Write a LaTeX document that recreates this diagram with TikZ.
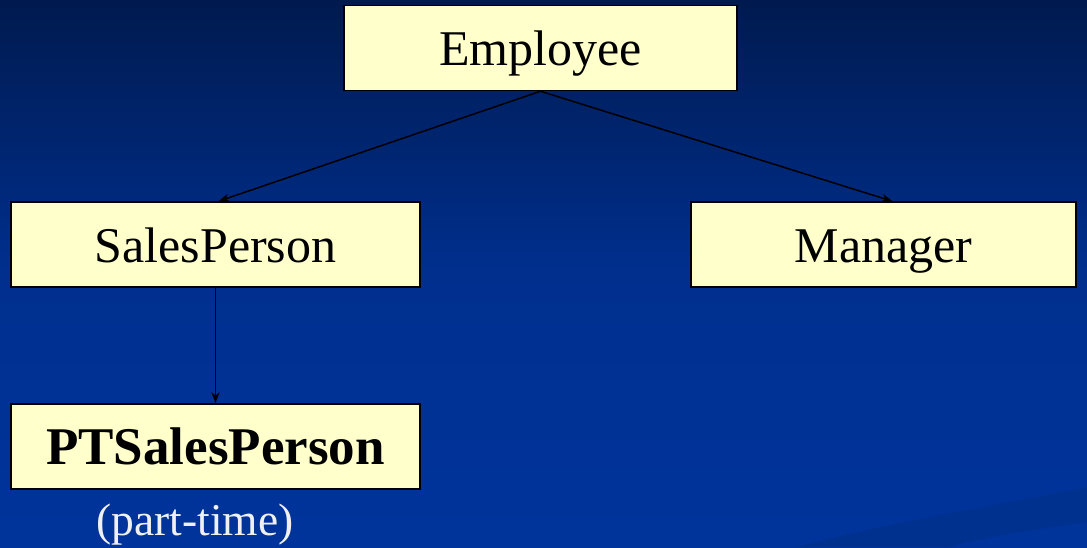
\documentclass[tikz,border=0pt]{standalone}
\usepackage{fontspec}
\setmainfont{Liberation Serif}
\usetikzlibrary{arrows.meta,positioning}
\definecolor{navytop}{HTML}{001A4F}
\definecolor{navymid}{HTML}{002F8E}
\definecolor{navybot}{HTML}{00349C}
\definecolor{swoosh}{HTML}{00318F}
\definecolor{boxfill}{HTML}{FFFFCC}
\tikzset{
  classbox/.style={draw=black,line width=1.5pt,fill=boxfill,inner sep=0pt,
    minimum height=85pt,text height=45pt,text depth=10pt,
    font=\fontsize{50}{60}\selectfont},
  inherit/.style={line width=1.5pt,-{Stealth[length=11pt,width=8pt]}}
}
\begin{document}
\begin{tikzpicture}[x=1pt,y=1pt]
  % background
  \useasboundingbox (0,0) rectangle (1087,-547);
  \shade[top color=navytop,bottom color=navybot,middle color=navymid]
    (0,0) rectangle (1087,-547);
  \fill[swoosh] (797,-547) .. controls (900,-520) and (1000,-505) .. (1087,-487)
    -- (1087,-522) .. controls (1030,-530) and (980,-538) .. (950,-547) -- cycle;
  % classes
  \node[classbox,minimum width=393pt] (emp) at (540.5,-48) {Employee};
  \node[classbox,minimum width=409pt] (sales) at (215.5,-244.5) {SalesPerson};
  \node[classbox,minimum width=385pt] (mgr) at (883.5,-244.5) {Manager};
  \node[classbox,minimum width=409pt,font=\fontsize{53}{63}\selectfont\bfseries]
    (ptsales) at (215.5,-446.5) {PTSalesPerson};
  \node[anchor=base,text=white!94!black,font=\fontsize{45.5}{54}\selectfont]
    (parttime) at (195,-535) {(part-time)};
  % inheritance
  \draw[inherit] (emp.south) -- ([xshift=3pt]sales.north);
  \draw[inherit] (emp.south) -- ([xshift=9pt]mgr.north);
  \draw[inherit] (sales.south) -- (ptsales.north);
\end{tikzpicture}
\end{document}
